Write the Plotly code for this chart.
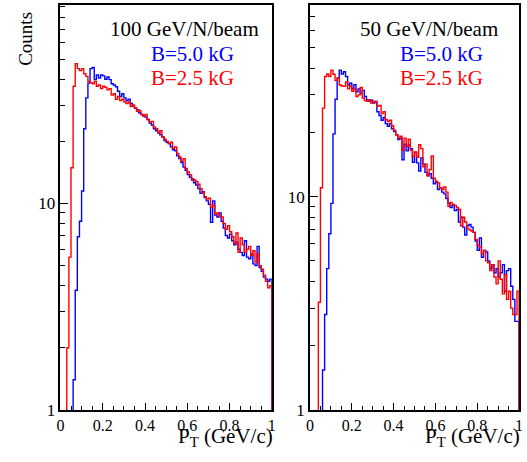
import numpy as np
import plotly.graph_objects as go

# ---- data: 100 bins of width 0.01 in P_T (GeV/c) ----
n_bins = 100
bin_width = 0.01
bin_low = [round(i * bin_width, 2) for i in range(n_bins)]

# values below 1 (empty bins) stored as 0.5 (off the log scale)
left_blue = [0.5, 0.5, 0.5, 0.5, 0.5, 0.5, 1.4, 3.8, 6.9, 8.2,
             11.5, 23, 32.5, 38.3, 45, 45.6, 39.8, 41.9, 40.5, 42,
             41.5, 40, 41, 39.8, 38, 37.5, 36.8, 35, 33, 34,
             32.5, 31.5, 32, 30.5, 29.8, 29, 28.5, 27.5, 27, 26.5,
             26.2, 25.5, 24.5, 24, 23, 22.5, 22, 21.5, 21, 20.2,
             19.8, 19.5, 18.8, 18.2, 18, 17, 16.5, 15.8, 15, 14.5,
             13.8, 13.4, 13, 12.6, 12.3, 11.8, 11.2, 11.4, 10.7, 10.3,
             9.9, 8.1, 10.3, 8.8, 8.6, 9.0, 8.2, 7.6, 7.0, 6.8,
             7.1, 6.6, 6.3, 6.5, 6.0, 5.8, 5.6, 6.6, 5.5, 5.4,
             5.7, 5.1, 5.0, 6.2, 4.9, 4.7, 4.4, 4.3, 4.2, 4.3]
left_red = [0.5, 0.5, 0.5, 2.0, 5.5, 14.9, 37, 47.6, 45, 44,
            45, 42.5, 41.3, 39, 38.5, 38, 39, 37, 37.5, 36,
            37, 36.5, 35.5, 36, 33.5, 34, 32, 33, 31.5, 32,
            31, 30.5, 31, 29.5, 30, 29, 28, 28.2, 27, 26.5,
            27, 25.5, 24.8, 25, 23.5, 23, 22, 22.5, 21, 20.5,
            20, 19.5, 19.8, 18.5, 18.8, 17.5, 16.8, 16, 16.5, 14.8,
            14.2, 13.8, 13.2, 13, 12.8, 12.4, 11.8, 11.3, 10.8, 10.5,
            10.6, 9.6, 9.8, 8.9, 9.0, 8.7, 8.6, 8.0, 7.5, 7.8,
            7.3, 6.9, 6.4, 7.2, 5.8, 6.8, 6.3, 5.8, 6.0, 6.2,
            5.6, 5.9, 5.2, 5.7, 5.0, 4.8, 4.5, 4.2, 3.9, 4.0]

right_blue = [0.5, 0.5, 0.5, 0.5, 0.5, 0.5, 1.54, 2.8, 4.6, 6.7,
              9.3, 19.7, 28.6, 35.9, 39.2, 37.6, 38.5, 36.6, 33.4, 34,
              32, 33.5, 31, 32, 30.5, 31.5, 29.5, 28.5, 28, 28.3,
              27.5, 27.8, 25, 24, 22.8, 23.5, 22, 21.4, 22, 20.8,
              20.2, 19.5, 18.5, 18.8, 14.9, 17.6, 16.4, 17.5, 16.8, 14.5,
              16.1, 14.4, 13.2, 15.2, 14.2, 13.0, 12.6, 12.8, 12.2, 11.5,
              11.7, 10.8, 11.0, 10.5, 10.3, 9.8, 9.3, 8.9, 9.1, 8.6,
              8.7, 7.6, 8.0, 7.2, 6.6, 7.3, 7.4, 7.2, 6.8, 6.2,
              5.6, 6.4, 5.2, 5.6, 5.5, 5.0, 4.6, 4.8, 4.4, 4.6,
              4.2, 4.4, 4.8, 3.6, 4.5, 4.6, 3.8, 3.3, 2.6, 2.6]
right_red = [0.5, 0.5, 0.5, 0.5, 3.2, 11, 26, 36.6, 37.6, 36.6,
             39.2, 37.5, 35, 36, 33.4, 33, 32.9, 34.5, 32, 33,
             31.2, 32, 29.5, 30, 32.5, 29, 28.2, 28, 28.5, 27.5,
             27.8, 28, 26.5, 26.8, 24.5, 25, 23, 22.5, 22.8, 21.5,
             20.5, 19.5, 18.8, 19.2, 16.5, 18.8, 17.2, 18.6, 16.5, 15.4,
             16.2, 15.3, 17.5, 16.8, 13.8, 14.2, 12.5, 13.4, 15.5, 12.2,
             11.8, 11.6, 11.0, 10.8, 11.1, 10.5, 9.0, 9.4, 9.2, 9.1,
             8.9, 8.7, 7.3, 8.0, 7.6, 7.1, 7.0, 6.9, 6.8, 6.3,
             5.9, 5.8, 5.4, 5.6, 5.0, 4.9, 4.5, 4.8, 4.2, 3.9,
             5.0, 4.1, 3.5, 4.3, 3.3, 3.6, 3.0, 2.8, 2.8, 3.6]

x_tick_vals = [0, 0.2, 0.4, 0.6, 0.8, 1]
x_tick_text = ["0", "0.2", "0.4", "0.6", "0.8", "1"]
y_tick_vals = [1, 10]
y_tick_text = ["1", "10"]
y_minor_vals = [2, 3, 4, 5, 6, 7, 8, 9, 20, 30, 40, 50, 60, 70, 80, 90]

panel_titles = ["100 GeV/N/beam", "50 GeV/N/beam"]
legend_blue = "B=5.0 kG"
legend_red = "B=2.5 kG"

FONT = "Liberation Serif"
W, H = 527, 462


def step_xy(values):
    xs = [0.0] + bin_low + [1.0, 1.0]
    ys = [values[0]] + values + [values[-1], 0.5]
    return xs, ys


fig = go.Figure()
panels = [("x", "y", left_blue, left_red), ("x2", "y2", right_blue, right_red)]
for xa, ya, blue, red in panels:
    for vals, col in [(blue, "#0000ff"), (red, "#ff0000")]:
        xs, ys = step_xy(vals)
        fig.add_trace(go.Scatter(x=xs, y=ys, mode="lines", line_shape="hv",
                                 line=dict(color=col, width=1.4),
                                 xaxis=xa, yaxis=ya, showlegend=False,
                                 hoverinfo="skip"))

px = lambda v: v / W
py = lambda v: (H - v) / H

common_x = dict(range=[0, 1], tickvals=x_tick_vals, ticktext=x_tick_text,
                ticks="inside", ticklen=7, tickwidth=1, tickcolor="black",
                minor=dict(tickmode="linear", tick0=0, dtick=0.05, ticks="inside",
                           ticklen=4, tickcolor="black", tickwidth=1),
                showline=True, linecolor="black", linewidth=1.5, mirror=True,
                showgrid=False, zeroline=False, ticklabelstandoff=0,
                tickfont=dict(family=FONT, size=16, color="black"))
common_y = dict(type="log", tickvals=y_tick_vals, ticktext=y_tick_text,
                ticks="inside", ticklen=8, tickwidth=1, tickcolor="black",
                minor=dict(tickmode="array", tickvals=y_minor_vals, ticks="inside",
                           ticklen=5, tickcolor="black", tickwidth=1),
                showline=True, linecolor="black", linewidth=1.5, mirror=True,
                showgrid=False, zeroline=False,
                tickfont=dict(family=FONT, size=17, color="black"))

fig.update_layout(
    width=W, height=H,
    margin=dict(l=0, r=0, t=0, b=0),
    paper_bgcolor="white", plot_bgcolor="white",
    xaxis=dict(domain=[px(57.3), px(272)], anchor="y", **common_x),
    yaxis=dict(domain=[py(419), py(5)], anchor="x", range=[0, 414 / 211], **common_y),
    xaxis2=dict(domain=[px(310.7), px(523)], anchor="y2", **common_x),
    yaxis2=dict(domain=[py(419), py(5)], anchor="x2", range=[0, 414 / 218], **common_y),
)

ann = []
tf = lambda c: dict(family=FONT, size=21, color=c)
# left panel texts
ann.append(dict(text=panel_titles[0], x=px(261), y=py(30), xanchor="right", yanchor="middle", font=tf("black")))
ann.append(dict(text=legend_blue, x=px(147), y=py(55), xanchor="left", yanchor="middle", font=tf("#0000ff")))
ann.append(dict(text=legend_red, x=px(147), y=py(80), xanchor="left", yanchor="middle", font=tf("#ff0000")))
# right panel texts
ann.append(dict(text=panel_titles[1], x=px(504), y=py(30), xanchor="right", yanchor="middle", font=tf("black")))
ann.append(dict(text=legend_blue, x=px(400), y=py(55), xanchor="left", yanchor="middle", font=tf("#0000ff")))
ann.append(dict(text=legend_red, x=px(400), y=py(80), xanchor="left", yanchor="middle", font=tf("#ff0000")))
# axis titles
ann.append(dict(text="Counts", x=px(21), y=py(40), xanchor="center", yanchor="middle", textangle=-90,
                font=dict(family=FONT, size=19, color="black")))
for xr in [274, 525]:
    ann.append(dict(text="P<sub>T</sub> (GeV/c)", x=px(xr), y=py(461), xanchor="right", yanchor="bottom",
                    borderpad=0, font=dict(family=FONT, size=21, color="black")))
for a in ann:
    a.update(xref="paper", yref="paper", showarrow=False)
fig.update_layout(annotations=ann)

fig.write_html("out.html", config={"displayModeBar": False},
               post_script="document.body.style.margin='0';document.body.style.overflow='hidden';")
